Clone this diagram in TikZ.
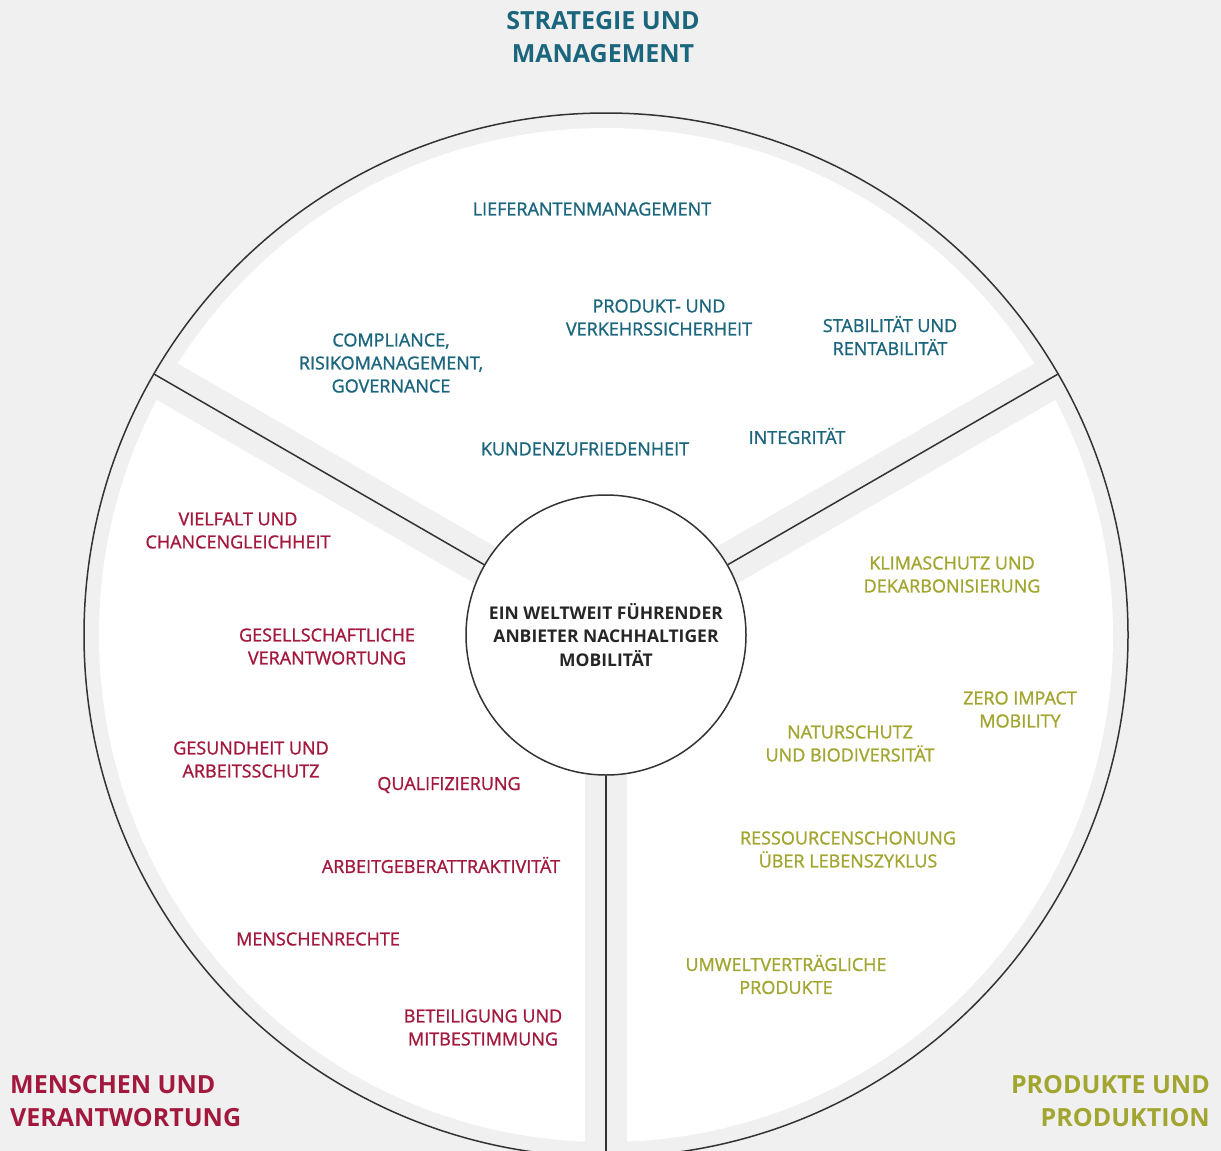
\documentclass[tikz,border=0pt]{standalone}
\usepackage{fontspec}
\setmainfont{Open Sans}
\newfontfamily\lbfont[FakeBold=1.2]{Open Sans}
\usepackage{tikz}
\usetikzlibrary{positioning}
\usetikzlibrary{calc}
\definecolor{bggray}{HTML}{F0F0F0}
\definecolor{smblue}{HTML}{1B667D}
\definecolor{mvred}{HTML}{A3193D}
\definecolor{ppgreen}{HTML}{A2A630}
\definecolor{linegray}{HTML}{333333}

\begin{document}
\begin{tikzpicture}[x=1pt,y=-1pt,
	lb/.style={inner sep=0pt, align=center, font=\lbfont\fontsize{18}{23}\selectfont},
	sm/.style={lb, smblue},
	mv/.style={lb, mvred},
	pp/.style={lb, ppgreen},
	ti/.style={inner sep=0pt, font=\bfseries\fontsize{25}{33}\selectfont},
	rv/.style={linegray, line width=1.5pt}]
\useasboundingbox (0,0) rectangle (1221,1151);
\clip (0,0) rectangle (1221,1151);
\fill[bggray] (0,0) rectangle (1221,1151);

\coordinate (m) at (606,635);
\fill[white] (m) circle [radius=507pt];
\foreach \a/\n in {-30/ne, 90/s, 210/nw} {
\coordinate (r\n) at ($(m)+(\a:522)$);
\draw[bggray, line width=42pt] (m) -- (r\n);
}
\draw[rv] (m) circle [radius=522pt];
\node (core) at (m) [circle, minimum size=280pt, inner sep=0pt, fill=white, draw=linegray, line width=1.5pt, align=center, text=black!85, font=\bfseries\fontsize{17.5}{23.5}\selectfont] {EIN WELTWEIT FÜHRENDER\\ANBIETER NACHHALTIGER\\MOBILITÄT};
\foreach \n in {ne, s, nw} {
\draw[rv] (core) -- (r\n);
}

% Strategie und Management
\node (t1) at (603,37) [ti, smblue, align=center] {STRATEGIE UND\\MANAGEMENT};
\node (s1) at (592,209) [sm] {LIEFERANTENMANAGEMENT};
\node (s2) at (659,317.5) [sm] {PRODUKT- UND\\VERKEHRSSICHERHEIT};
\node (s3) at (391,363) [sm] {COMPLIANCE,\\RISIKOMANAGEMENT,\\GOVERNANCE};
\node (s4) at (890,335.5) [sm] {STABILITÄT UND\\RENTABILITÄT};
\node (s5) at (585,449) [sm] {KUNDENZUFRIEDENHEIT};
\node (s6) at (797,436) [sm] {INTEGRITÄT};

% Menschen und Verantwortung
\node (t2) at (10,1101.5) [ti, mvred, anchor=west, align=left] {MENSCHEN UND\\VERANTWORTUNG};
\node (m1) at (238,530.5) [mv] {VIELFALT UND\\CHANCENGLEICHHEIT};
\node (m2) at (327,646.5) [mv] {GESELLSCHAFTLICHE\\VERANTWORTUNG};
\node (m3) at (251,759.5) [mv] {GESUNDHEIT UND\\ARBEITSSCHUTZ};
\node (m4) at (449,785) [mv] {QUALIFIZIERUNG};
\node (m5) at (441,865) [mv] {ARBEITGEBERATTRAKTIVITÄT};
\node (m6) at (318,939) [mv] {MENSCHENRECHTE};
\node (m7) at (483,1027.5) [mv] {BETEILIGUNG UND\\MITBESTIMMUNG};

% Produkte und Produktion
\node (t3) at (1210,1101.5) [ti, ppgreen, anchor=east, align=right] {PRODUKTE UND\\PRODUKTION};
\node (p1) at (952,574.5) [pp] {KLIMASCHUTZ UND\\DEKARBONISIERUNG};
\node (p2) at (1020,709.5) [pp] {ZERO IMPACT\\MOBILITY};
\node (p3) at (850,743.5) [pp] {NATURSCHUTZ\\UND BIODIVERSITÄT};
\node (p4) at (848,849.5) [pp] {RESSOURCENSCHONUNG\\ÜBER LEBENSZYKLUS};
\node (p5) at (786,974.5) [pp] {UMWELTVERTRÄGLICHE\\PRODUKTE};
\end{tikzpicture}
\end{document}
